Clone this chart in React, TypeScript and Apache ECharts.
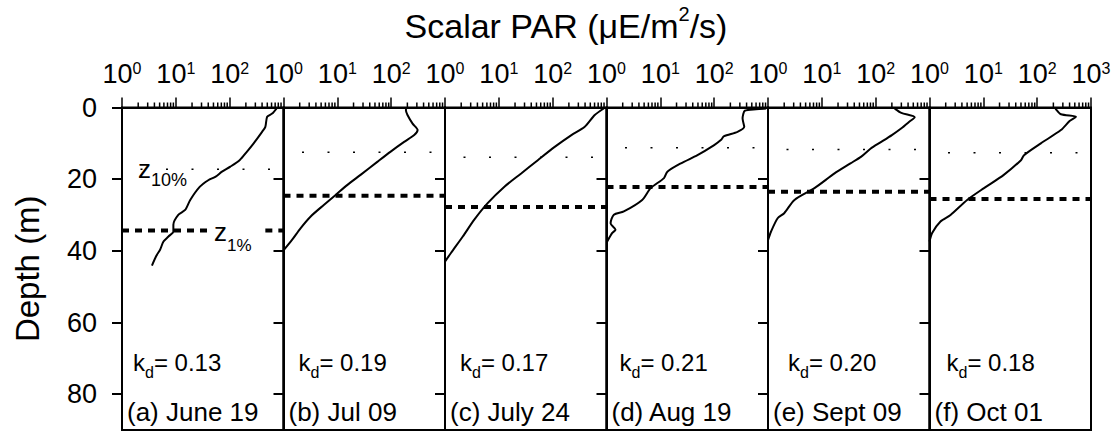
import React, { useEffect, useRef } from 'react';
import * as echarts from 'echarts';

// ---------- data ----------
const panelLabels = ['(a) June 19', '(b) Jul 09', '(c) July 24', '(d) Aug 19', '(e) Sept 09', '(f) Oct 01'];
const kdValues = ['0.13', '0.19', '0.17', '0.21', '0.20', '0.18'];
const z10Depths = [17.2, 12.5, 13.9, 11.2, 11.7, 12.6];
const z1Depths = [34.3, 24.6, 27.8, 22.2, 23.5, 25.5];
const depthTicks = [0, 20, 40, 60, 80];
const minorTickValues = [2, 3, 4, 5, 6, 7, 8, 9, 20, 30, 40, 50, 60, 70, 80, 90, 200, 300, 400, 500, 600, 700, 800, 900];
// gap in panel (a)'s z1% line where its label sits (PAR units)
const z1GapA = [40, 460];

// [PAR, depth]
const profileA = [[741, 0.3], [616, 1.7], [497, 2.6], [460, 5.4], [400, 6.8], [279, 10], [210, 12.3], [153, 14.7], [103, 16.5], [72, 17.9], [55, 19.3], [40, 20.3], [28, 22.1], [18.5, 25.8], [14.9, 28.6], [11.2, 29.9], [9.0, 32.7], [9.0, 34.6], [7.3, 36], [5.9, 37.4], [5.1, 39.7], [4.3, 41.5], [3.6, 44.1]];
const profileB = [[190, 0], [188, 0.8], [201, 2.1], [250, 4.5], [310, 6.3], [268, 7.7], [174, 9.6], [98, 12.3], [56, 15.1], [27, 18.8], [15.4, 21.6], [9.3, 24.4], [5.6, 27.2], [3.2, 30.4], [2.07, 33.7], [1.45, 36.9], [1.0, 39.9]];
const profileC = [[900, 0.2], [605, 2.1], [394, 5.4], [223, 7.7], [109, 11], [53, 14.7], [26, 18.4], [12.7, 22.1], [6.2, 26.7], [3.5, 31.3], [2.14, 36], [1.29, 40.6], [1.0, 43]];
const profileD = [[920, 0.3], [600, 0.5], [370, 0.9], [345, 2], [337, 3.1], [362, 5.4], [271, 6.8], [153, 8], [133, 9.1], [100, 10.5], [49, 13.3], [24, 15.6], [13.5, 17.9], [11.7, 19.7], [6.6, 22.5], [4.6, 25.8], [2.1, 29], [1.37, 29.9], [1.19, 32.3], [1.47, 34.1], [1.28, 35], [1.03, 37.4]];
const profileE = [[226, 0.3], [300, 1.5], [530, 2.7], [420, 4], [301, 5.8], [200, 7.7], [127, 9.6], [80, 11.5], [54, 13.7], [34, 15.6], [17.2, 18.4], [7.3, 22.5], [3.1, 25.8], [2.0, 29.5], [1.51, 30.9], [1.14, 34.6], [1.0, 37]];
const profileF = [[215, 0], [223, 0.5], [276, 1.9], [525, 2.6], [400, 3.8], [276, 6.3], [117, 10], [57, 13.3], [50, 14.7], [24, 18.8], [10.3, 22.5], [5.0, 25.8], [2.46, 30], [1.6, 31.8], [1.12, 35], [1.0, 37.4]];
const profiles = [profileA, profileB, profileC, profileD, profileE, profileF];

// ---------- layout ----------
const FONT = '"Liberation Sans", Arial, Helvetica, sans-serif';
const GRID_LEFT0 = 122;
const PANEL_W = 161.5;
const GRID_TOP = 107.5;
const GRID_H = 322.5;
const kdOffsets = [11, 15, 15, 13, 20, 17];

export default function App() {
  const ref = useRef<HTMLDivElement>(null);
  useEffect(() => {
    const chart = echarts.init(ref.current!, null, { renderer: 'svg' });
    const grids: any[] = [];
    const xAxes: any[] = [];
    const yAxes: any[] = [];
    const series: any[] = [];
    const graphics: any[] = [];

    for (let i = 0; i < 6; i++) {
      const left = GRID_LEFT0 + i * PANEL_W;
      grids.push({
        left, top: GRID_TOP, width: PANEL_W, height: GRID_H,
        show: true, borderColor: '#000', borderWidth: 2, backgroundColor: 'transparent',
      });
      xAxes.push({
        type: 'log', logBase: 10, min: 1, max: 1000, gridIndex: i, position: 'top',
        axisLine: { show: true, onZero: false, lineStyle: { color: '#000', width: 2 } },
        axisTick: { show: true, inside: false, length: 10, lineStyle: { color: '#000', width: 1.5 } },
        axisLabel: {
          show: true, margin: 20, showMinLabel: true, showMaxLabel: i === 5,
          formatter: (v: number) => '{b|10}{s|' + Math.round(Math.log10(v)) + '}',
          rich: {
            b: { fontSize: 27, fontFamily: FONT, color: '#000' },
            s: { fontSize: 16, fontFamily: FONT, color: '#000', verticalAlign: 'top' },
          },
        },
        splitLine: { show: false },
      });
      yAxes.push({
        type: 'value', gridIndex: i, inverse: true, min: 0, max: 90, position: 'left',
        axisLine: { show: true, onZero: false, lineStyle: { color: '#000', width: 2 } },
        axisTick: { show: true, inside: false, length: 10, customValues: depthTicks, lineStyle: { color: '#000', width: 2 } },
        axisLabel: { show: i === 0, customValues: depthTicks, margin: 25, fontSize: 27, color: '#000', fontFamily: FONT },
        splitLine: { show: false },
        name: i === 0 ? 'Depth (m)' : '',
        nameLocation: 'middle', nameGap: 78,
        nameTextStyle: { fontSize: 33, color: '#000', fontFamily: FONT },
      });

      // profile
      series.push({
        type: 'line', xAxisIndex: i, yAxisIndex: i, data: profiles[i], symbol: 'none', smooth: 0.25,
        lineStyle: { color: '#000', width: 2 }, silent: true,
      });
      // z10% thin dotted
      series.push({
        type: 'line', xAxisIndex: i, yAxisIndex: i, data: [[1, z10Depths[i]], [1000, z10Depths[i]]], symbol: 'none',
        lineStyle: { color: '#000', width: 1.5, type: [2, 23.5], dashOffset: 6.5 }, silent: true,
      });
      // z1% thick dotted
      const segs = i === 0
        ? [[[1, z1Depths[i]], [z1GapA[0], z1Depths[i]]], [[z1GapA[1], z1Depths[i]], [1000, z1Depths[i]]]]
        : [[[1, z1Depths[i]], [1000, z1Depths[i]]]];
      segs.forEach((d) => series.push({
        type: 'line', xAxisIndex: i, yAxisIndex: i, data: d, symbol: 'none',
        lineStyle: { color: '#000', width: 4, type: [7, 6], cap: 'butt' }, silent: true,
      }));
      // minor ticks on the top log axis
      series.push({
        type: 'custom', xAxisIndex: i, yAxisIndex: i, silent: true, clip: false,
        data: minorTickValues.map((v) => [v, 0]),
        renderItem: (params: any, api: any) => {
          const p = api.coord([api.value(0), api.value(1)]);
          return { type: 'line', shape: { x1: p[0], y1: p[1], x2: p[0], y2: p[1] - 5 }, style: { stroke: '#000', lineWidth: 1.5 } };
        },
      });

      graphics.push({
        type: 'text', x: left + kdOffsets[i], y: 362.5,
        style: {
          text: 'k{sub|d}= ' + kdValues[i], fontSize: 24, fontFamily: FONT, fill: '#000',
          align: 'left', verticalAlign: 'middle',
          rich: { sub: { fontSize: 16, fontFamily: FONT, fill: '#000', verticalAlign: 'top', padding: [20, 0, 0, 0] } },
        },
      });
      graphics.push({
        type: 'text', x: left + 5, y: 412,
        style: { text: panelLabels[i], fontSize: 26, fontFamily: FONT, fill: '#000', align: 'left', verticalAlign: 'middle' },
      });
    }

    graphics.push({
      type: 'text', x: 566, y: 25.5,
      style: {
        text: 'Scalar PAR (μE/m{sup|2}/s)', fontSize: 34, fontFamily: FONT, fill: '#000',
        align: 'center', verticalAlign: 'middle',
        rich: { sup: { fontSize: 20, fontFamily: FONT, fill: '#000', verticalAlign: 'top', padding: [0, 0, 24, 0] } },
      },
    });
    graphics.push({
      type: 'text', x: 138, y: 168.5,
      style: {
        text: 'z{s|10%}', fontSize: 26, fontFamily: FONT, fill: '#000', align: 'left', verticalAlign: 'middle',
        rich: { s: { fontSize: 18, fontFamily: FONT, fill: '#000', verticalAlign: 'top', padding: [23, 0, 0, 0] } },
      },
    });
    graphics.push({
      type: 'text', x: 214, y: 231.5,
      style: {
        text: 'z{s|1%}', fontSize: 26, fontFamily: FONT, fill: '#000', align: 'left', verticalAlign: 'middle',
        rich: { s: { fontSize: 17, fontFamily: FONT, fill: '#000', verticalAlign: 'top', padding: [27, 0, 0, 0] } },
      },
    });

    chart.setOption({
      animation: false,
      backgroundColor: '#fff',
      grid: grids,
      xAxis: xAxes,
      yAxis: yAxes,
      series,
      graphic: graphics,
    });
    return () => chart.dispose();
  }, []);
  return <div ref={ref} style={{ position: 'absolute', left: 0, top: 0, width: 1117, height: 431 }} />;
}
